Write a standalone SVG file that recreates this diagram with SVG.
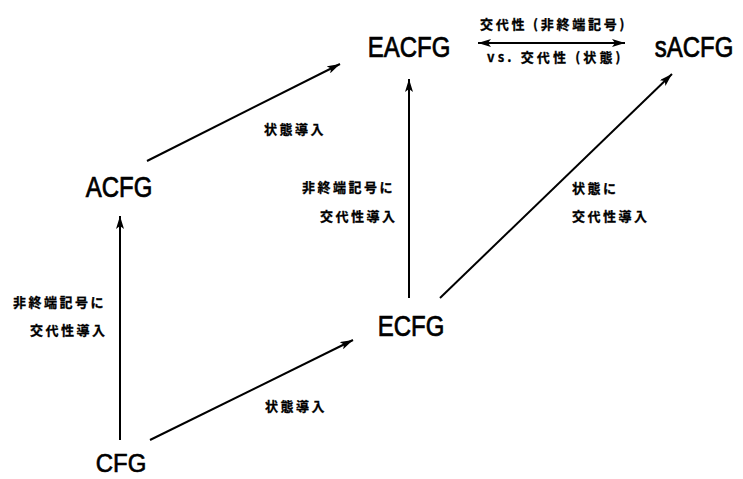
<svg xmlns="http://www.w3.org/2000/svg" width="743" height="479" viewBox="0 0 743 479">
<style>
.node{font-family:"Liberation Sans","Noto Sans",sans-serif;font-size:24px;fill:#000;stroke:#000;stroke-width:0.6;text-anchor:middle}
.lbl{font-family:"Noto Sans CJK JP","Noto Sans",sans-serif;font-size:13px;font-weight:bold;fill:#000;stroke:#000;stroke-width:0.3;letter-spacing:2.5px}
.edge{stroke:#000;stroke-width:2;fill:none}
</style>
<defs>
<marker id="ah" markerUnits="userSpaceOnUse" markerWidth="14" markerHeight="8" refX="13" refY="4" orient="auto-start-reverse">
<path d="M0,0 L13,4 L0,8 L3,4 Z" fill="#000"/>
</marker>
</defs>
<rect width="743" height="479" fill="#fff"/>
<g id="connectors">
<line class="edge" x1="120" y1="440" x2="120" y2="216" marker-end="url(#ah)"/>
<line class="edge" x1="150" y1="440" x2="353" y2="340" marker-end="url(#ah)"/>
<line class="edge" x1="147" y1="161" x2="340" y2="64" marker-end="url(#ah)"/>
<line class="edge" x1="409" y1="298" x2="409" y2="79" marker-end="url(#ah)"/>
<line class="edge" x1="440" y1="298" x2="672" y2="74" marker-end="url(#ah)"/>
<line class="edge" x1="478" y1="43" x2="625" y2="43" marker-start="url(#ah)" marker-end="url(#ah)"/>
</g>
<g id="labels">
<text class="lbl" x="264" y="134">状態導入</text>
<text class="lbl" x="265" y="411">状態導入</text>
<text class="lbl" x="302" y="192">非終端記号に</text>
<text class="lbl" x="320" y="221">交代性導入</text>
<text class="lbl" x="13" y="307">非終端記号に</text>
<text class="lbl" x="30" y="335">交代性導入</text>
<text class="lbl" x="572" y="193">状態に</text>
<text class="lbl" x="572" y="221">交代性導入</text>
<text class="lbl" x="480" y="29" textLength="147" lengthAdjust="spacing">交代性 (非終端記号)</text>
<text class="lbl" x="487" y="62" textLength="136" lengthAdjust="spacing">vs. 交代性 (状態)</text>
</g>
<g id="EACFG"><text class="node" transform="translate(409,57) scale(1,1.2)">EACFG</text></g>
<g id="sACFG"><text class="node" transform="translate(694,57) scale(1,1.2)">sACFG</text></g>
<g id="ACFG"><text class="node" transform="translate(119,197) scale(1,1.2)">ACFG</text></g>
<g id="ECFG"><text class="node" transform="translate(411,336) scale(1,1.2)">ECFG</text></g>
<g id="CFG"><text class="node" transform="translate(121,472) scale(1,1.1)">CFG</text></g>
</svg>
